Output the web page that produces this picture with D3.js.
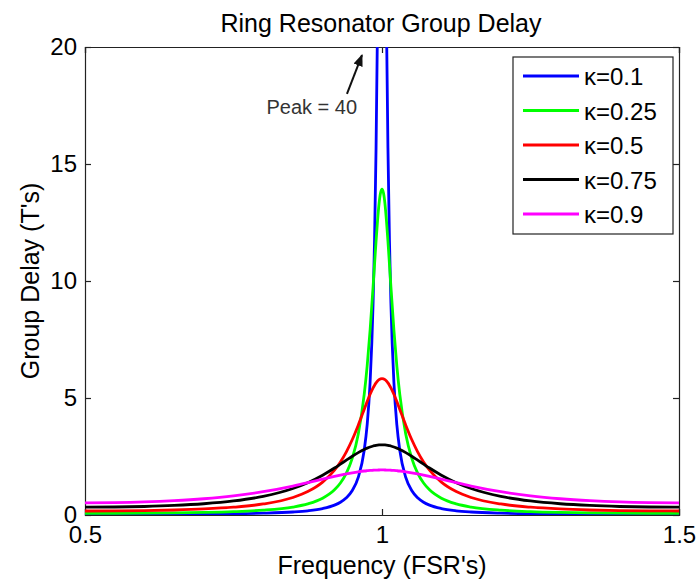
<!DOCTYPE html>
<html><head><meta charset="utf-8">
<script src="https://cdn.jsdelivr.net/npm/d3@7"></script>
<style>body{margin:0;background:#fff}svg{display:block;font-family:"Liberation Sans",Arial,sans-serif}</style>
</head><body><svg id="c" width="699" height="583"></svg>
<script>
const frequencies = [0.5,0.55,0.6,0.65,0.7,0.75,0.8,0.85,0.875,0.9,0.92,0.93,0.94,0.95,0.96,0.97,0.975,0.98,0.985,0.9875,0.99,0.9925,0.995,0.9975,1,
  1.0025,1.005,1.0075,1.01,1.0125,1.015,1.02,1.025,1.03,1.04,1.05,1.06,1.07,1.08,1.1,1.125,1.15,1.2,1.25,1.3,1.35,1.4,1.45,1.5];
const delayK010 = [0.0263,0.0270,0.0291,0.0332,0.0402,0.0526,0.0761,0.1274,0.1791,0.2740,0.4214,0.546,0.736,1.047,1.607,2.759,3.847,5.684,9.047,11.79,15.68,21.10,28.02,34.88,37.98,
  34.88,28.02,21.10,15.68,11.79,9.047,5.684,3.847,2.759,1.607,1.047,0.736,0.546,0.4214,0.2740,0.1791,0.1274,0.0761,0.0526,0.0402,0.0332,0.0291,0.0270,0.0263];
const delayK025 = [0.0718,0.0736,0.0793,0.0903,0.1094,0.1429,0.2058,0.3416,0.4760,0.7169,1.077,1.368,1.791,2.434,3.455,5.141,6.366,7.910,9.752,10.74,11.70,12.58,13.30,13.76,13.93,
  13.76,13.30,12.58,11.70,10.74,9.752,7.910,6.366,5.141,3.455,2.434,1.791,1.368,1.077,0.7169,0.4760,0.3416,0.2058,0.1429,0.1094,0.0903,0.0793,0.0736,0.0718];
const delayK050 = [0.1716,0.1757,0.1891,0.2145,0.2581,0.3333,0.4704,0.7477,1.000,1.405,1.918,2.269,2.701,3.226,3.840,4.511,4.845,5.158,5.431,5.547,5.645,5.724,5.781,5.817,5.828,
  5.817,5.781,5.724,5.645,5.547,5.431,5.158,4.845,4.511,3.840,3.226,2.701,2.269,1.918,1.405,1.000,0.7477,0.4704,0.3333,0.2581,0.2145,0.1891,0.1757,0.1716];
const delayK075 = [0.333,0.341,0.364,0.408,0.481,0.600,0.797,1.133,1.381,1.701,2.007,2.173,2.342,2.509,2.665,2.802,2.859,2.908,2.948,2.963,2.977,2.987,2.994,2.999,3.000,
  2.999,2.994,2.987,2.977,2.963,2.948,2.908,2.859,2.802,2.665,2.509,2.342,2.173,2.007,1.701,1.381,1.133,0.797,0.600,0.481,0.408,0.364,0.341,0.333];
const delayK090 = [0.519,0.529,0.558,0.612,0.695,0.818,0.995,1.236,1.379,1.530,1.649,1.705,1.758,1.805,1.846,1.880,1.893,1.905,1.913,1.917,1.920,1.922,1.924,1.925,1.925,
  1.925,1.924,1.922,1.920,1.917,1.913,1.905,1.893,1.880,1.846,1.805,1.758,1.705,1.649,1.530,1.379,1.236,0.995,0.818,0.695,0.612,0.558,0.529,0.519];
const seriesNames = ["κ=0.1","κ=0.25","κ=0.5","κ=0.75","κ=0.9"];
const seriesValues = [delayK010, delayK025, delayK050, delayK075, delayK090];
const seriesColors = ["#0000ff","#00ff00","#ff0000","#000000","#ff00ff"];
const xTicks = [0.5, 1, 1.5];
const yTicks = [0, 5, 10, 15, 20];
const titleText = "Ring Resonator Group Delay";
const xLabel = "Frequency (FSR's)";
const yLabel = "Group Delay (T's)";
const annotationText = "Peak = 40";

const svg = d3.select("#c");
const L = 85, R = 679, T = 47, B = 515;
const x = d3.scaleLinear().domain([0.5, 1.5]).range([L, R]);
const y = d3.scaleLinear().domain([0, 20]).range([B, T]);

svg.append("defs").append("clipPath").attr("id","clip")
  .append("rect").attr("x",L).attr("y",T).attr("width",R-L).attr("height",B-T);

// axes with inward ticks
const fs = 24;
const axL = svg.append("g").attr("transform",`translate(${L},0)`)
  .call(d3.axisLeft(y).tickValues(yTicks).tickSize(-6).tickPadding(8).tickFormat(d3.format("d")));
const axR = svg.append("g").attr("transform",`translate(${R},0)`)
  .call(d3.axisRight(y).tickValues(yTicks).tickSize(-6).tickFormat(""));
const axB = svg.append("g").attr("transform",`translate(0,${B})`)
  .call(d3.axisBottom(x).tickValues(xTicks).tickSize(-6).tickPadding(11).tickFormat(d3.format("")));
const axT = svg.append("g").attr("transform",`translate(0,${T})`)
  .call(d3.axisTop(x).tickValues(xTicks).tickSize(-6).tickFormat(""));
[axL,axR,axB,axT].forEach(a=>{
  a.select(".domain").attr("stroke","#222").attr("stroke-width",1.2);
  a.selectAll(".tick line").attr("stroke","#222").attr("stroke-width",1.2);
  a.selectAll("text").attr("font-size",fs).attr("fill","#000").attr("font-family","Liberation Sans, Arial, sans-serif");
});

// lines
const line = d3.line().x((d,i)=>x(frequencies[i])).y(d=>y(d)).curve(d3.curveMonotoneX);
const g = svg.append("g").attr("clip-path","url(#clip)");
seriesValues.forEach((vals,k)=>{
  g.append("path").datum(vals).attr("d",line).attr("fill","none")
    .attr("stroke",seriesColors[k]).attr("stroke-width",2.8).attr("stroke-linejoin","round");
});

// title and labels
svg.append("text").attr("x",381).attr("y",32).attr("text-anchor","middle")
  .attr("font-size",25).text(titleText);
svg.append("text").attr("x",382).attr("y",574).attr("text-anchor","middle")
  .attr("font-size",25).text(xLabel);
svg.append("text").attr("transform",`translate(39,${(T+B)/2}) rotate(-90)`).attr("text-anchor","middle")
  .attr("font-size",25).text(yLabel);

// annotation
svg.append("defs").append("marker").attr("id","ah").attr("viewBox","0 0 10 10").attr("refX",9).attr("refY",5)
  .attr("markerWidth",6).attr("markerHeight",6).attr("orient","auto")
  .append("path").attr("d","M0,1 L10,5 L0,9 Z").attr("fill","#111");
svg.append("line").attr("x1",x(0.941)).attr("y1",y(18.0)).attr("x2",x(0.9663)).attr("y2",y(19.65))
  .attr("stroke","#111").attr("stroke-width",2).attr("marker-end","url(#ah)");
svg.append("text").attr("x",x(0.958)).attr("y",y(17.14)).attr("text-anchor","end")
  .attr("font-size",20).attr("fill","#333").text(annotationText);

// legend
const lg = svg.append("g");
lg.append("rect").attr("x",513).attr("y",57).attr("width",160).attr("height",177)
  .attr("fill","#fff").attr("stroke","#222").attr("stroke-width",1.2);
seriesNames.forEach((n,k)=>{
  const yy = 76 + k*34.5;
  lg.append("line").attr("x1",523).attr("x2",579).attr("y1",yy).attr("y2",yy)
    .attr("stroke",seriesColors[k]).attr("stroke-width",2.8);
  lg.append("text").attr("x",584).attr("y",yy+9).attr("font-size",24).text(n);
});
</script></body></html>
